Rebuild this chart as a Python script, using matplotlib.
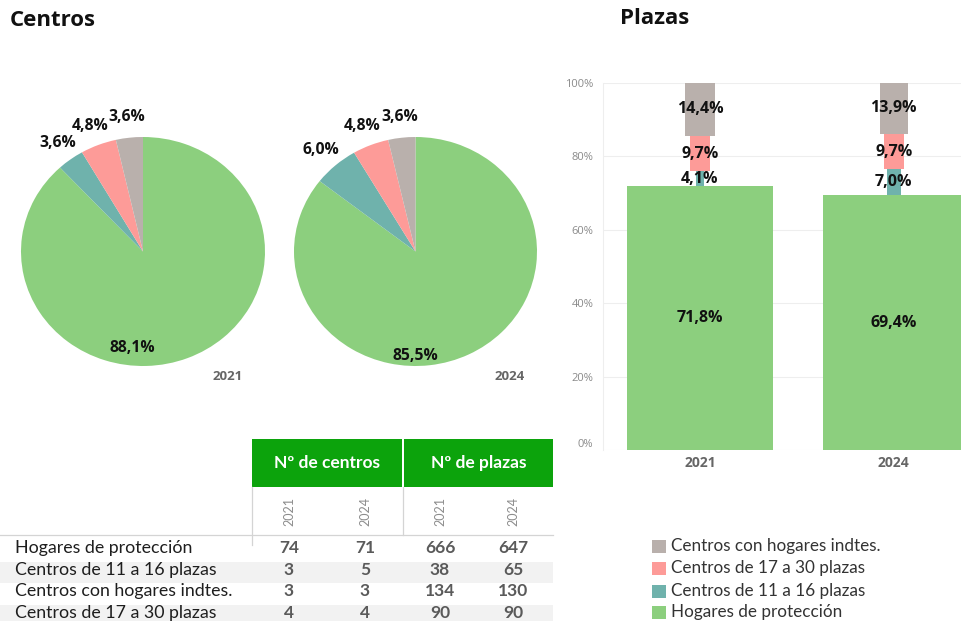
import matplotlib

matplotlib.use("Agg")

import matplotlib.pyplot as plt
import numpy as np
from matplotlib.patches import Rectangle

W, H = 961, 621

# --- data -------------------------------------------------------------------
years = ["2021", "2024"]

table_rows = [
    "Hogares de protección",
    "Centros de 11 a 16 plazas",
    "Centros con hogares indtes.",
    "Centros de 17 a 30 plazas",
]
centros_2021 = [74, 3, 3, 4]
centros_2024 = [71, 5, 3, 4]
plazas_2021 = [666, 38, 134, 90]
plazas_2024 = [647, 65, 130, 90]

# order used in the pies (clockwise from 12 o'clock) and in the stacked bars
stack_order = [
    "Hogares de protección",
    "Centros de 11 a 16 plazas",
    "Centros de 17 a 30 plazas",
    "Centros con hogares indtes.",
]
colors = {
    "Hogares de protección": "#8ccf7e",
    "Centros de 11 a 16 plazas": "#6fb2ac",
    "Centros de 17 a 30 plazas": "#fd9b98",
    "Centros con hogares indtes.": "#b9b0ac",
}

HEADER_GREEN = "#0ca30c"
FONT = "Open Sans"
TFONT = "Lato"


def fx(px):
    return px / W


def fy(py):
    return 1 - py / H


def axes_px(fig, left, top, right, bottom):
    return fig.add_axes([fx(left), fy(bottom), (right - left) / W, (bottom - top) / H])


def pct(v):
    return f"{v:.1f}%".replace(".", ",")


def shares(counts):
    d = dict(zip(table_rows, counts))
    vals = np.array([d[c] for c in stack_order], dtype=float)
    return 100 * vals / vals.sum()


fig = plt.figure(figsize=(W / 100, H / 100), dpi=100)
fig.patch.set_facecolor("white")

# --- titles -----------------------------------------------------------------
fig.text(fx(10), fy(21), "Centros", fontsize=16, fontweight="bold",
         family=FONT, ha="left", va="center", color="#111111")
fig.text(fx(620), fy(19), "Plazas", fontsize=16, fontweight="bold",
         family=FONT, ha="left", va="center", color="#111111")


# --- pies -------------------------------------------------------------------
def draw_pie(ax, counts, big_pos):
    vals = shares(counts)
    wedges, _ = ax.pie(
        vals,
        colors=[colors[c] for c in stack_order],
        startangle=90,
        counterclock=False,
        wedgeprops=dict(linewidth=0),
    )
    ax.set_aspect("auto")
    ax.set_xlim(-1, 1)
    ax.set_ylim(-1, 1)
    for w, v in zip(wedges[1:], vals[1:]):
        mid = np.deg2rad((w.theta1 + w.theta2) / 2)
        ax.text(1.18 * np.cos(mid), 1.18 * np.sin(mid), pct(v), ha="center",
                va="center", fontsize=11.3, fontweight="bold", family=FONT,
                color="#111111")
    ax.text(big_pos[0], big_pos[1], pct(vals[0]), ha="center", va="center",
            fontsize=11.3, fontweight="bold", family=FONT, color="#111111")


ax1 = axes_px(fig, 21, 137, 265, 366)
draw_pie(ax1, centros_2021, (-0.09, -0.84))
ax2 = axes_px(fig, 294, 137, 537, 366)
draw_pie(ax2, centros_2024, (0.0, -0.91))

fig.text(fx(228), fy(376), years[0], fontsize=9.5, fontweight="bold",
         family=FONT, color="#666666", ha="center", va="center")
fig.text(fx(510), fy(376), years[1], fontsize=9.5, fontweight="bold",
         family=FONT, color="#666666", ha="center", va="center")

# --- stacked bars with proportional widths ----------------------------------
axb = axes_px(fig, 603, 82.7, 961, 450)
x = np.arange(len(years))
plazas = np.vstack([shares(plazas_2021), shares(plazas_2024)]).T  # cat x year
bottoms = np.zeros(len(years))
for cat, vals in zip(stack_order, plazas):
    axb.bar(x, vals, width=vals * 0.01054, bottom=bottoms, color=colors[cat],
            linewidth=0, zorder=2)
    for xi, v, b in zip(x, vals, bottoms):
        axb.text(xi, b + v / 2, pct(v), ha="center", va="center", fontsize=11.5,
                 fontweight="bold", family=FONT, color="#111111", zorder=3)
    bottoms += vals

axb.set_xlim(-0.5005, 1.347)
axb.set_ylim(0, 100)
axb.set_yticks(np.arange(0, 101, 20))
axb.set_yticklabels([f"{v}%" for v in range(0, 101, 20)], family=FONT,
                    fontsize=8, color="#8a8a8a")
axb.get_yticklabels()[0].set_va("bottom")
axb.set_xticks(x)
axb.set_xticklabels(years, family=FONT, fontsize=10, fontweight="bold",
                    color="#666666")
axb.tick_params(length=0)
axb.tick_params(axis="y", pad=7)
axb.tick_params(axis="x", pad=4)
axb.grid(axis="y", color="#eeeeee", linewidth=0.8, zorder=0)
for side in ["top", "right", "bottom"]:
    axb.spines[side].set_visible(False)
axb.spines["left"].set_color("#eeeeee")

# --- legend -----------------------------------------------------------------
legend_y = [546, 568.5, 591, 612]
for cat, py in zip(stack_order[::-1], legend_y):
    fig.add_artist(Rectangle((fx(652), fy(py + 6.5)), 14 / W, 13 / H,
                             transform=fig.transFigure, color=colors[cat],
                             linewidth=0))
    fig.text(fx(671), fy(py), cat, fontsize=12.3, family=TFONT,
             color="#333333", ha="left", va="center")

# --- table ------------------------------------------------------------------
col_x = [289, 365, 440, 513]
fig.add_artist(Rectangle((fx(251.7), fy(486.7)), 150 / W, 47.7 / H,
                         transform=fig.transFigure, color=HEADER_GREEN, linewidth=0))
fig.add_artist(Rectangle((fx(404), fy(486.7)), 149.3 / W, 47.7 / H,
                         transform=fig.transFigure, color=HEADER_GREEN, linewidth=0))
fig.text(fx(326.7), fy(463), "Nº de centros", fontsize=12.5, fontweight="bold",
         family=TFONT, color="white", ha="center", va="center")
fig.text(fx(478.7), fy(463), "Nº de plazas", fontsize=12.5, fontweight="bold",
         family=TFONT, color="white", ha="center", va="center")

for cx, yr in zip(col_x, years * 2):
    fig.text(fx(cx), fy(511), yr, fontsize=9, family=TFONT, color="#8c8c8c",
             rotation=90, ha="center", va="center")

line_kw = dict(transform=fig.transFigure, color="#d4d4d4", linewidth=0.9)
fig.add_artist(plt.Line2D([0, fx(553)], [fy(535), fy(535)], **line_kw))
fig.add_artist(plt.Line2D([fx(252), fx(252)], [fy(487), fy(545)], **line_kw))
fig.add_artist(plt.Line2D([fx(403), fx(403)], [fy(487), fy(535)], **line_kw))

row_top, row_h = 540, 21.5
for i, (label, a, b, c, d) in enumerate(
        zip(table_rows, centros_2021, centros_2024, plazas_2021, plazas_2024)):
    top = row_top + i * row_h
    if i % 2 == 1:
        fig.add_artist(Rectangle((0, fy(top + row_h)), 553 / W, row_h / H,
                                 transform=fig.transFigure, color="#f2f2f2",
                                 linewidth=0, zorder=0))
    cy = top + row_h / 2 - 2.5
    fig.text(fx(15), fy(cy), label, fontsize=12.8, family=TFONT,
             color="#1e1e1e", ha="left", va="center")
    for cx, v in zip(col_x, [a, b, c, d]):
        fig.text(fx(cx), fy(cy), str(v), fontsize=12.5, fontweight="bold",
                 family=TFONT, color="#5a5a5a", ha="center", va="center")

fig.savefig("out.png", dpi=100)
